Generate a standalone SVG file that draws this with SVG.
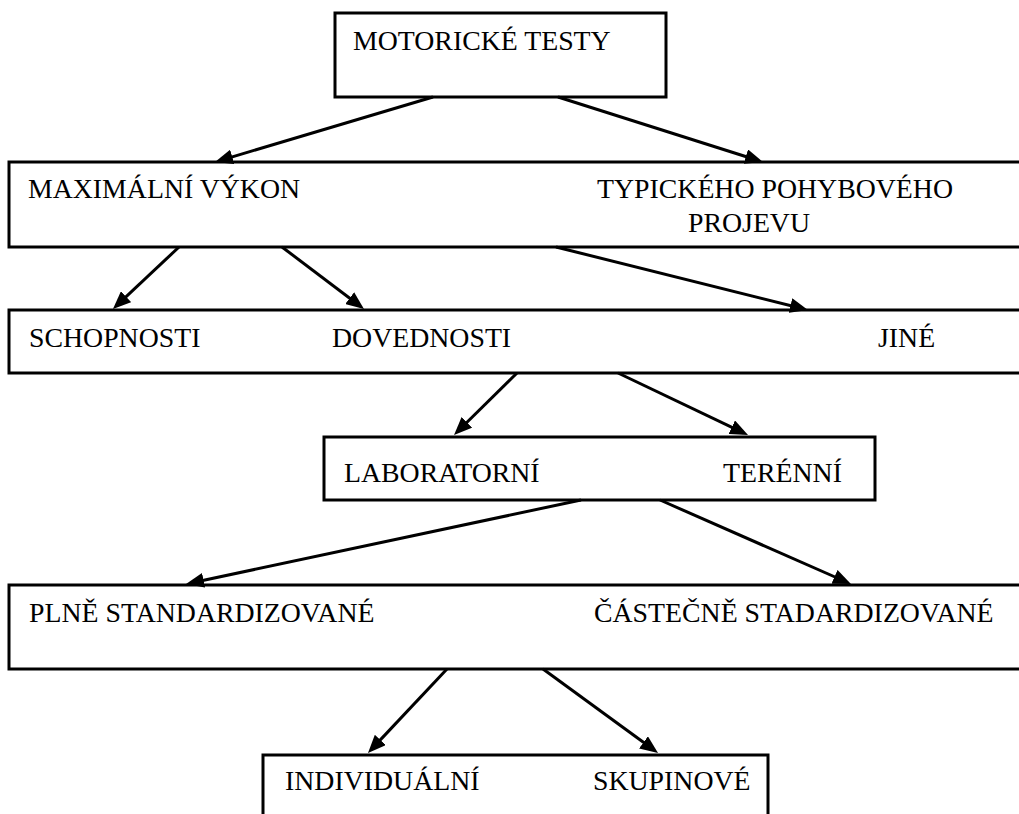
<svg xmlns="http://www.w3.org/2000/svg" width="1019" height="814" viewBox="0 0 1019 814">
<style>
.box{fill:#fff;stroke:#000;stroke-width:3}
.c{stroke:#000;stroke-width:3;fill:none;marker-end:url(#ah)}
</style>
<defs>
<marker id="ah" markerUnits="userSpaceOnUse" markerWidth="18" markerHeight="15" refX="13" refY="7.5" orient="auto" viewBox="0 0 18 15">
<path d="M0,0 L18,7.5 L0,15 z" fill="#000"/>
</marker>
</defs>
<rect width="1019" height="814" fill="#fff"/>
<g font-family="Liberation Serif, Times New Roman, serif" font-size="27.8" fill="#000">
<g id="n1"><rect class="box" x="335" y="13" width="331" height="84"/><text x="353" y="50">MOTORICKÉ TESTY</text></g>
<g id="n2"><rect class="box" x="9" y="162" width="1030" height="85"/><text x="28" y="198">MAXIMÁLNÍ VÝKON</text><text x="597" y="198">TYPICKÉHO POHYBOVÉHO</text><text x="688" y="232">PROJEVU</text></g>
<g id="n3"><rect class="box" x="9" y="310" width="1030" height="63"/><text x="29" y="347">SCHOPNOSTI</text><text x="332" y="347">DOVEDNOSTI</text><text x="878" y="347">JINÉ</text></g>
<g id="n4"><rect class="box" x="324" y="437" width="551" height="63"/><text x="344" y="482">LABORATORNÍ</text><text x="723" y="482">TERÉNNÍ</text></g>
<g id="n5"><rect class="box" x="9" y="585" width="1030" height="84"/><text x="29" y="622">PLNĚ STANDARDIZOVANÉ</text><text x="594" y="622">ČÁSTEČNĚ STADARDIZOVANÉ</text></g>
<g id="n6"><rect class="box" x="263" y="755" width="505" height="80"/><text x="285" y="790">INDIVIDUÁLNÍ</text><text x="593" y="790">SKUPINOVÉ</text></g>
</g>
<g id="connectors">
<line class="c" x1="433" y1="97" x2="219.8" y2="160.6"/>
<line class="c" x1="558" y1="97" x2="758.2" y2="160.5"/>
<line class="c" x1="179" y1="247" x2="116.6" y2="305.6"/>
<line class="c" x1="282" y1="247" x2="360" y2="306"/>
<line class="c" x1="556" y1="247" x2="803.1" y2="308.8"/>
<line class="c" x1="517" y1="373" x2="457.6" y2="431.5"/>
<line class="c" x1="618" y1="373" x2="743.5" y2="432.8"/>
<line class="c" x1="581" y1="500" x2="190.9" y2="583"/>
<line class="c" x1="660" y1="500" x2="846.4" y2="582"/>
<line class="c" x1="447" y1="669" x2="371.4" y2="749.4"/>
<line class="c" x1="543" y1="669" x2="654" y2="750"/>
</g>
</svg>
